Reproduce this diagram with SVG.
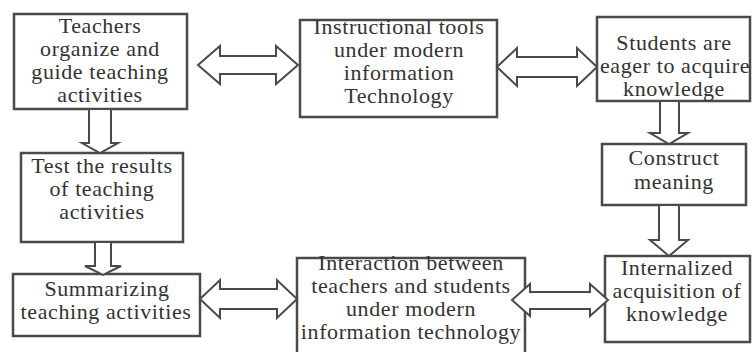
<svg xmlns="http://www.w3.org/2000/svg" width="753" height="352" viewBox="0 0 753 352">
<style>
.box{fill:#fff;stroke:#4a4a4a;stroke-width:2.5}
.arr{fill:#fff;stroke:#4a4a4a;stroke-width:2;stroke-linejoin:miter}
.t{font-family:'Liberation Serif','DejaVu Serif',serif;font-size:22px;fill:#333;text-anchor:middle;letter-spacing:0.6px}
</style>
<rect width="753" height="352" fill="#fff"/>
<g id="n1" class="t"><rect class="box" x="14" y="14" width="173" height="95"/>
<text x="100" y="33">Teachers</text><text x="100" y="56">organize and</text><text x="100" y="79">guide teaching</text><text x="100" y="102">activities</text></g>
<g id="n2" class="t"><rect class="box" x="300" y="20" width="197" height="97"/>
<text x="399" y="34">Instructional tools</text><text x="399" y="57">under modern</text><text x="399" y="80">information</text><text x="399" y="103">Technology</text></g>
<g id="n3" class="t"><rect class="box" x="597" y="17" width="153" height="84"/>
<text x="674" y="50">Students are</text><text x="675" y="73">eager to acquire</text><text x="674" y="96">knowledge</text></g>
<g id="n4" class="t"><rect class="box" x="602" y="144" width="144" height="61"/>
<text x="674" y="165">Construct</text><text x="674" y="189">meaning</text></g>
<g id="n5" class="t"><rect class="box" x="21" y="153" width="162" height="89"/>
<text x="102" y="173">Test the results</text><text x="102" y="196">of teaching</text><text x="102" y="219">activities</text></g>
<g id="n6" class="t"><rect class="box" x="13" y="274" width="187" height="62"/>
<text x="107" y="296">Summarizing</text><text x="106" y="319">teaching activities</text></g>
<g id="n7" class="t"><rect class="box" x="297" y="258" width="228" height="96"/>
<text x="411" y="270">Interaction between</text><text x="411" y="293">teachers and students</text><text x="411" y="316">under modern</text><text x="411" y="339">information technology</text></g>
<g id="n8" class="t"><rect class="box" x="605" y="256" width="145" height="86"/>
<text x="677" y="275">Internalized</text><text x="677" y="298">acquisition of</text><text x="677" y="321">knowledge</text></g>
<g id="connectors">
<polygon class="arr" points="198,65 220,46 220,56 276,56 276,46 298,65 276,84 276,74 220,74 220,84"/>
<polygon class="arr" points="497,67 517,48 517,57 577,57 577,48 597,67 577,86 577,77 517,77 517,86"/>
<polygon class="arr" points="200,299 220,280 220,289 277,289 277,280 297,299 277,318 277,309 220,309 220,318"/>
<polygon class="arr" points="512,300 530,284 530,292 590,292 590,284 608,300 590,316 590,309 530,309 530,316"/>
<polygon class="arr" points="89,109 111,109 111,143 118,143 100,153 82,143 89,143"/>
<polygon class="arr" points="660,101 679,101 679,133 688,133 669,144 650,133 660,133"/>
<polygon class="arr" points="95,242 111,242 111,266 121,266 103,275 85,266 95,266"/>
<polygon class="arr" points="659,205 679,205 679,240 688,240 669,256 650,240 659,240"/>
</g>
</svg>
